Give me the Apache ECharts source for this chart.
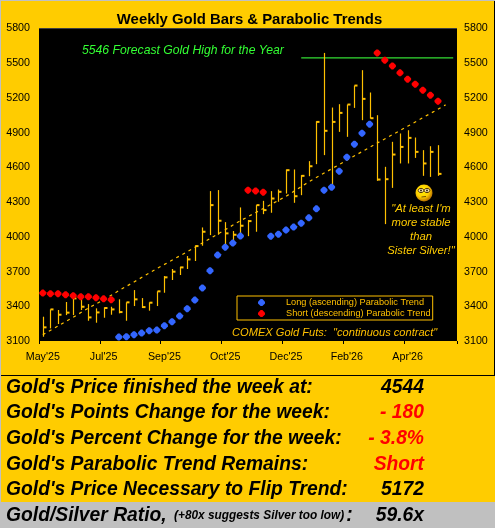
<!DOCTYPE html>
<html><head><meta charset="utf-8">
<style>html,body{margin:0;padding:0;background:#FFCC00;overflow:hidden}#c{width:495px;height:528px}</style>
<script src="https://cdn.jsdelivr.net/npm/echarts@6/dist/echarts.min.js"></script>
</head><body><div id="c"></div>
<script>
var tickLabels = ["May'25","Jul'25","Sep'25","Oct'25","Dec'25","Feb'26","Apr'26"];
var yTicks = [3100,3400,3700,4000,4300,4600,4900,5200,5500,5800];
var highs = [3310,3373,3368,3437,3477,3483,3419,3382,3391,3396,3460,3434,3540,3471,3434,3529,3661,3722,3742,3834,3926,4081,4395,4404,4127,4050,4254,4145,4274,4311,4395,4409,4582,4582,4533,4654,4999,5589,5117,5146,5143,5307,5440,5247,5051,4605,4821,4893,4921,4858,4749,4783,4792];
var lows = [3137,3209,3247,3324,3324,3368,3275,3258,3301,3327,3339,3275,3402,3385,3362,3402,3517,3627,3670,3722,3791,3923,4015,4018,3920,3937,4015,4006,4044,4196,4208,4303,4374,4294,4360,4524,4628,4706,4418,4907,4864,5114,5008,5022,4484,4110,4423,4634,4634,4682,4527,4518,4527];
var closes = [3218,3373,3327,3345,3468,3396,3304,3347,3385,3373,3350,3434,3460,3393,3431,3529,3650,3699,3736,3805,3920,4044,4274,4139,4030,4018,4096,4136,4274,4231,4331,4389,4576,4351,4527,4610,4993,4916,4993,5071,5143,5307,5192,5025,4495,4498,4711,4777,4855,4734,4634,4734,4544];
var longTrend = [null,null,null,null,null,null,null,null,null,null,3134,3137,3155,3169,3189,3195,3232,3267,3316,3379,3454,3558,3707,3842,3911,3946,4007,null,null,null,4006,4023,4058,4084,4118,4164,4242,4403,4429,4567,4688,4800,4895,4973,null,null,null,null,null,null,null,null,null];
var shortTrend = [3514,3509,3509,3500,3491,3483,3483,3474,3465,3457,null,null,null,null,null,null,null,null,null,null,null,null,null,null,null,null,null,4403,4397,4386,null,null,null,null,null,null,null,null,null,null,null,null,null,null,5589,5526,5477,5417,5362,5319,5267,5224,5172];
var dashIdx = [0,2,4,6,8,10,12,15,19,22,26,32,35,39,44,48,53];
var dashVal = [3155,3230,3305,3385,3455,3535,3610,3725,3871,3985,4139,4350,4475,4625,4810,4955,5140];
var forecastIdx = [34,54];
var forecastVal = [5546,5546];
var statLabels = ["Gold's Price finished the week at:","Gold's Points Change for the week:","Gold's Percent Change for the week:","Gold's Parabolic Trend Remains:","Gold's Price Necessary to Flip Trend:"];
var statValues = ["4544","- 180","- 3.8%","Short","5172"];
var statColors = ["#000","#FF0000","#FF0000","#FF0000","#000"];
var statY = [388,413,439,465,490];
var ratioValue = "59.6x";
var quote = ['"At least I\'m','more stable','than','Sister Silver!"'];

var categories = [];
for (var k = 0; k < 55; k++) categories.push(k % 8 === 0 ? tickLabels[k / 8] : '');
var barColor = '#FFC000', FONT = '"Liberation Sans",Arial,sans-serif';
var DOT = 'path://M3 0L5 0L8 3L8 5L5 8L3 8L0 5L0 3Z';

function renderBar(params, api) {
  var x = api.coord([api.value(0), 0])[0];
  var hi = api.coord([api.value(0), api.value(1)])[1];
  var lo = api.coord([api.value(0), api.value(2)])[1];
  var cl = api.coord([api.value(0), api.value(3)])[1];
  var px = Math.round(x) + 0.5;
  return {type:'group',children:[
    {type:'line',shape:{x1:px,y1:hi,x2:px,y2:lo},style:{stroke:barColor,lineWidth:1.2}},
    {type:'line',shape:{x1:px,y1:cl,x2:px+3,y2:cl},style:{stroke:barColor,lineWidth:2}}
  ]};
}
var barData = highs.map(function(h,i){return [i,h,lows[i],closes[i]];});

var graphic = [
  {type:'rect',z:-1,shape:{x:0,y:0,width:495,height:1},style:{fill:'#C0C0C0'}},
  {type:'rect',z:-1,shape:{x:0,y:0,width:1,height:528},style:{fill:'#C0C0C0'}},
  {type:'rect',z:-1,shape:{x:1,y:502,width:494,height:26},style:{fill:'#C0C0C0'}},
  {type:'rect',z:-1,shape:{x:1,y:375,width:493,height:1},style:{fill:'#000'}},
  {type:'rect',z:-1,shape:{x:494,y:1,width:1,height:375},style:{fill:'#000'}},
  {type:'rect',z:-1,shape:{x:39,y:28,width:418,height:1},style:{fill:'#808080'}},
  {type:'text',z:10,style:{text:'Weekly Gold Bars & Parabolic Trends',x:249.5,y:20,align:'center',verticalAlign:'middle',fill:'#000',font:'bold 14.9px '+FONT}},
  {type:'text',z:10,style:{text:'5546 Forecast Gold High for the Year',x:82,y:51,align:'left',verticalAlign:'middle',fill:'#33FF33',font:'italic 12.2px '+FONT}},
  {type:'text',z:10,style:{text:'COMEX Gold Futs:  "continuous contract"',x:232,y:333,align:'left',verticalAlign:'middle',fill:'#FFC000',font:'italic 11.1px '+FONT}}
];
quote.forEach(function(t,i){
  graphic.push({type:'text',z:10,style:{text:t,x:421,y:209+14*i,align:'center',verticalAlign:'middle',fill:'#FFCC00',font:'italic 11.3px '+FONT}});
});
statLabels.forEach(function(t,i){
  graphic.push({type:'text',z:10,style:{text:t,x:6,y:statY[i],align:'left',verticalAlign:'middle',fill:'#000',font:'italic bold 19.3px '+FONT}});
  graphic.push({type:'text',z:10,style:{text:statValues[i],x:424,y:statY[i],align:'right',verticalAlign:'middle',fill:statColors[i],font:'italic bold 19.3px '+FONT}});
});
graphic.push({type:'text',z:10,style:{x:6,y:516,align:'left',verticalAlign:'middle',text:'{a|Gold/Silver Ratio,} {b|(+80x suggests Silver too low)}{a|:}',rich:{a:{font:'italic bold 19.3px '+FONT,fill:'#000'},b:{font:'italic bold 11.85px '+FONT,fill:'#000',padding:[0,2,0,4]}}}});
graphic.push({type:'text',z:10,style:{text:ratioValue,x:424,y:516,align:'right',verticalAlign:'middle',fill:'#000',font:'italic bold 19.3px '+FONT}});
// smiley
graphic.push({type:'group',z:10,x:424,y:193,children:[
  {type:'circle',shape:{cx:0,cy:0,r:8.5},style:{fill:{type:'radial',x:0.42,y:0.38,r:0.62,colorStops:[{offset:0,color:'#FFF200'},{offset:0.6,color:'#FFD000'},{offset:1,color:'#B87000'}]}}},
  {type:'ellipse',shape:{cx:-3,cy:-2.5,rx:2.8,ry:2.1},style:{fill:'#FFF0B0',stroke:'#402000',lineWidth:0.9}},
  {type:'ellipse',shape:{cx:3,cy:-2.5,rx:2.8,ry:2.1},style:{fill:'#FFF0B0',stroke:'#402000',lineWidth:0.9}},
  {type:'circle',shape:{cx:-3,cy:-2.5,r:0.9},style:{fill:'#201000'}},
  {type:'circle',shape:{cx:3,cy:-2.5,r:0.9},style:{fill:'#201000'}},
  {type:'line',shape:{x1:-2.5,y1:4,x2:2,y2:3.5},style:{stroke:'#604000',lineWidth:0.9}}
]});

var yBase = {type:'value',min:3100,max:5800,splitLine:{show:false},axisLine:{show:false},axisTick:{show:false},
  axisLabel:{customValues:yTicks,formatter:function(v){return String(v);},color:'#000',fontSize:10.7,fontFamily:FONT,margin:9,showMinLabel:true,showMaxLabel:true}};

var chart = echarts.init(document.getElementById('c'),null,{renderer:'canvas'});
chart.setOption({
  animation:false,
  backgroundColor:'#FFCC00',
  grid:{left:39,top:28.5,width:418,height:312.5,backgroundColor:'#000',show:true,borderWidth:0,containLabel:false},
  xAxis:{type:'category',data:categories,boundaryGap:true,
    axisLine:{show:false},
    axisTick:{show:true,alignWithLabel:false,length:3,interval:function(i){return i%8===0;},lineStyle:{color:'#000',width:1}},
    axisLabel:{interval:0,color:'#000',fontSize:10.7,fontFamily:FONT,margin:11,hideOverlap:false}},
  yAxis:[yBase,Object.assign({},yBase,{position:'right',axisLabel:Object.assign({},yBase.axisLabel,{margin:7})})],
  legend:{show:true,orient:'vertical',left:237,top:296,itemWidth:39,itemHeight:7,itemGap:0,padding:[1,2,1,21],symbolKeepAspect:true,
    borderColor:'#FFC000',borderWidth:1,backgroundColor:'#000',selectedMode:false,align:'left',
    textStyle:{color:'#FFC000',fontSize:9.2,fontFamily:FONT,lineHeight:11,padding:0},
    data:[{name:'Long (ascending) Parabolic Trend',icon:DOT},{name:'Short (descending) Parabolic Trend',icon:DOT}]},
  graphic:graphic,
  series:[
    {type:'line',name:'Trend',data:dashIdx.map(function(i,k){return [i,dashVal[k]];}),showSymbol:false,symbol:'none',z:2,silent:true,
      lineStyle:{color:'#FFC000',width:1.2,type:[3,4]}},
    {type:'line',name:'Forecast',data:forecastIdx.map(function(i,k){return [i,forecastVal[k]];}),showSymbol:false,symbol:'none',z:2,silent:true,
      lineStyle:{color:'#33DD33',width:1.2}},
    {type:'custom',name:'Gold',data:barData,renderItem:renderBar,encode:{x:0,y:[1,2,3]},z:3,silent:true},
    {type:'scatter',name:'Long (ascending) Parabolic Trend',data:longTrend,symbol:DOT,symbolSize:7,itemStyle:{color:'#3366FF',opacity:1},z:4,silent:true},
    {type:'scatter',name:'Short (descending) Parabolic Trend',data:shortTrend,symbol:DOT,symbolSize:7,itemStyle:{color:'#FF0000',opacity:1},z:4,silent:true}
  ]
});
</script></body></html>
